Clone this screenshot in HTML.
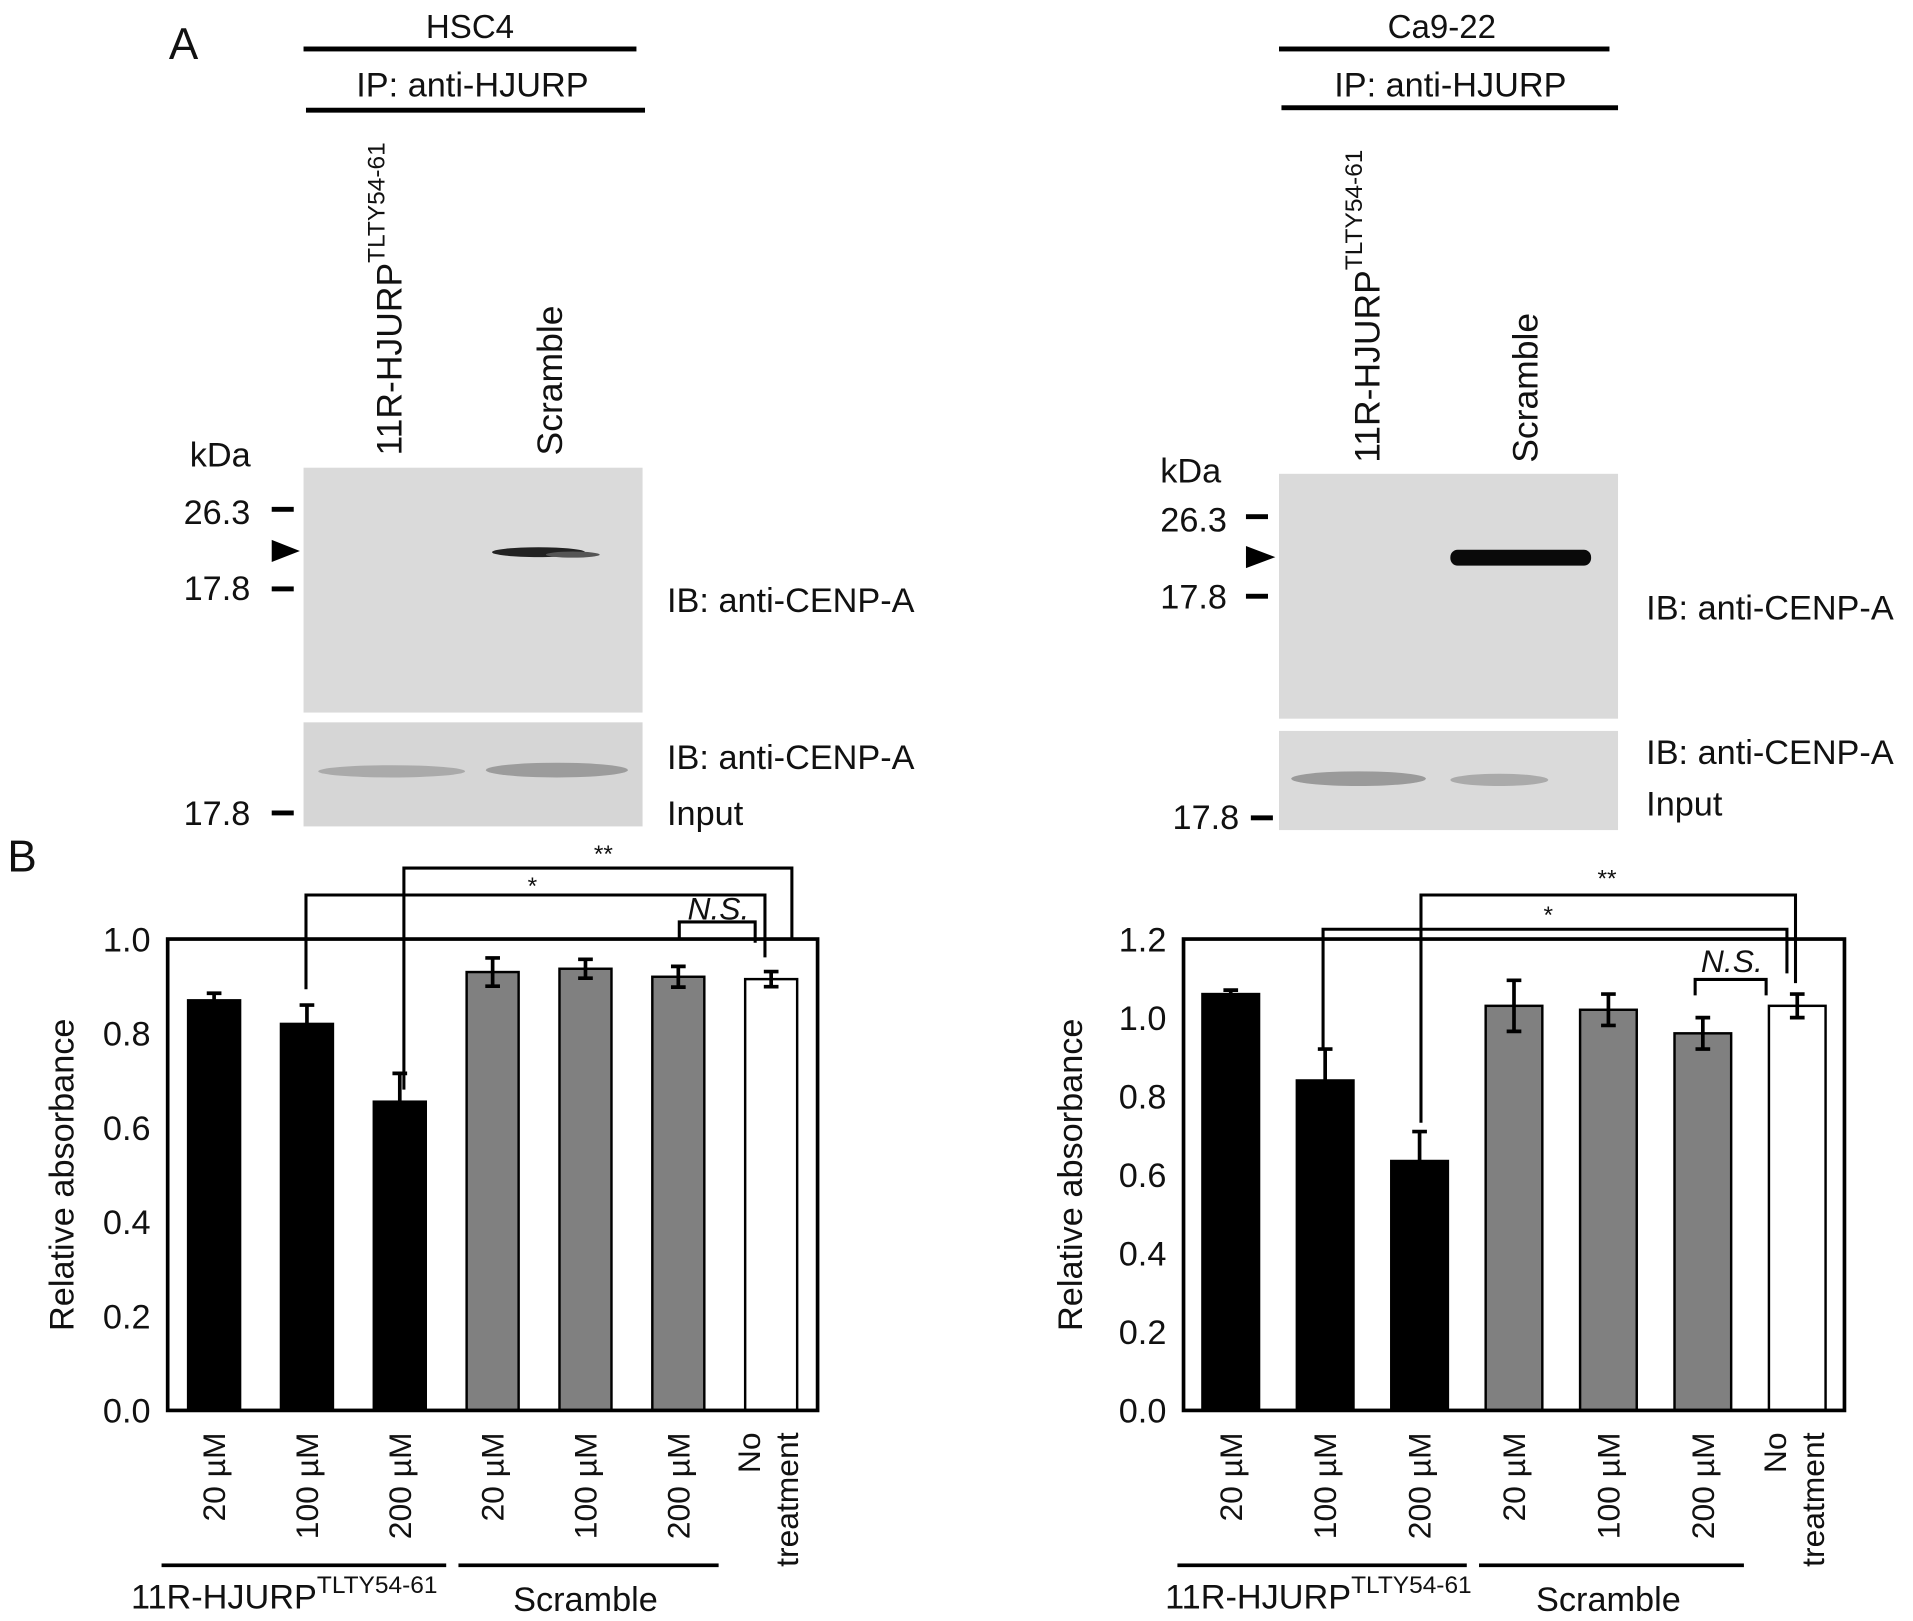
<!DOCTYPE html>
<html><head><meta charset="utf-8">
<style>
html,body{margin:0;padding:0;background:#fff;}
svg{display:block;}
text{font-family:"Liberation Sans",Arial,sans-serif;fill:#111;}
</style></head>
<body>
<svg id="fig" width="1913" height="1621" viewBox="0 0 1563 1324" preserveAspectRatio="none" xmlns="http://www.w3.org/2000/svg">
<g id="west" stroke="none">
  <text x="138" y="48" font-size="36">A</text>
  <text x="6" y="712" font-size="36">B</text>
  <text x="384" y="31" font-size="27" text-anchor="middle">HSC4</text>
  <rect x="248" y="38" width="272" height="4" fill="#000"/>
  <text x="386" y="79" font-size="28" text-anchor="middle">IP: anti-HJURP</text>
  <rect x="250" y="88" width="277" height="4" fill="#000"/>
  <text transform="translate(328,372) rotate(-90)" font-size="29">11R-HJURP<tspan font-size="20" dy="-14">TLTY54-61</tspan></text>
  <text transform="translate(459,372) rotate(-90)" font-size="29">Scramble</text>
  <text x="155" y="381" font-size="28">kDa</text>
  <rect x="248" y="382" width="277" height="200" fill="#dadada"/>
  <ellipse cx="440" cy="451" rx="38" ry="4" fill="#222"/>
  <ellipse cx="468" cy="453" rx="22" ry="2.5" fill="#555"/>
  <rect x="248" y="590" width="277" height="85" fill="#d6d6d6"/>
  <ellipse cx="320" cy="630" rx="60" ry="5" fill="#aaa"/>
  <ellipse cx="455" cy="629" rx="58" ry="6" fill="#9c9c9c"/>
  <text x="150" y="428" font-size="28">26.3</text><rect x="222" y="414" width="18" height="4" fill="#000"/>
  <polygon points="222,441 245,450 222,459" fill="#000"/>
  <text x="150" y="490" font-size="28">17.8</text><rect x="222" y="479" width="18" height="4" fill="#000"/>
  <text x="150" y="674" font-size="28">17.8</text><rect x="222" y="662" width="18" height="4" fill="#000"/>
  <text x="545" y="500" font-size="28">IB: anti-CENP-A</text>
  <text x="545" y="628" font-size="28">IB: anti-CENP-A</text>
  <text x="545" y="674" font-size="28">Input</text>
  <text x="1178" y="31" font-size="27" text-anchor="middle">Ca9-22</text>
  <rect x="1045" y="38" width="270" height="4" fill="#000"/>
  <text x="1185" y="79" font-size="28" text-anchor="middle">IP: anti-HJURP</text>
  <rect x="1047" y="86" width="275" height="4" fill="#000"/>
  <text transform="translate(1127,378) rotate(-90)" font-size="29">11R-HJURP<tspan font-size="20" dy="-14">TLTY54-61</tspan></text>
  <text transform="translate(1256,378) rotate(-90)" font-size="29">Scramble</text>
  <text x="948" y="394" font-size="28">kDa</text>
  <rect x="1045" y="387" width="277" height="200" fill="#dadada"/>
  <rect x="1185" y="449" width="115" height="13" rx="6" fill="#0a0a0a"/>
  <rect x="1045" y="597" width="277" height="81" fill="#dadada"/>
  <ellipse cx="1110" cy="636" rx="55" ry="6" fill="#9a9a9a"/>
  <ellipse cx="1225" cy="637" rx="40" ry="5" fill="#aaa"/>
  <text x="948" y="434" font-size="28">26.3</text><rect x="1018" y="420" width="18" height="4" fill="#000"/>
  <polygon points="1018,446 1042,455 1018,464" fill="#000"/>
  <text x="948" y="497" font-size="28">17.8</text><rect x="1018" y="485" width="18" height="4" fill="#000"/>
  <text x="958" y="677" font-size="28">17.8</text><rect x="1022" y="666" width="18" height="4" fill="#000"/>
  <text x="1345" y="506" font-size="28">IB: anti-CENP-A</text>
  <text x="1345" y="624" font-size="28">IB: anti-CENP-A</text>
  <text x="1345" y="666" font-size="28">Input</text>
</g>
<g id="charts"></g>
</svg>
<script>
// HSC4 chart data
const categories = ["20 µM","100 µM","200 µM","20 µM","100 µM","200 µM","No treatment"];
const hscValues = [0.87, 0.82, 0.655, 0.93, 0.937, 0.92, 0.915];
const hscErrors = [0.015, 0.04, 0.06, 0.03, 0.02, 0.022, 0.016];
const hscTicks = [0.0, 0.2, 0.4, 0.6, 0.8, 1.0];
// Ca9-22 chart data
const caValues = [1.06, 0.84, 0.635, 1.03, 1.02, 0.96, 1.03];
const caErrors = [0.01, 0.08, 0.075, 0.065, 0.04, 0.04, 0.03];
const caTicks = [0.0, 0.2, 0.4, 0.6, 0.8, 1.0, 1.2];
const fills = ["#000","#000","#000","#808080","#808080","#808080","#fff"];

const NS = "http://www.w3.org/2000/svg";
const root = document.getElementById('charts');
function mk(tag, attrs, parent, txt){
  const e = document.createElementNS(NS, tag);
  for (const k in attrs) e.setAttribute(k, attrs[k]);
  if (txt !== undefined) e.textContent = txt;
  parent.appendChild(e);
  return e;
}
function drawChart(cfg){
  const g = mk('g', {}, root);
  
  
  const ymax = cfg.ticks[cfg.ticks.length-1];
  const y = v => cfg.bottom - v / ymax * (cfg.bottom - cfg.top);
  const n = cfg.values.length;
  const step = (cfg.right - cfg.left) / n;
  const bw = step * cfg.bwFrac;
  const cx = i => cfg.left + step * (i + 0.5);
  cfg.ticks.forEach(t => {
    const tl = mk('text', {x: cfg.left - 14, y: y(t) + 10, 'font-size': 28, 'text-anchor': 'end'}, g, t.toFixed(1));
    
    
  });
  const yt = mk('text', {transform: `translate(${cfg.titleX},${(cfg.top+cfg.bottom)/2}) rotate(-90)`, 'font-size': 28, 'text-anchor': 'middle'}, g, 'Relative absorbance');
  
  
  cfg.values.forEach((v, i) => {
    const r = mk('rect', {x: cx(i) - bw/2, y: y(v), width: bw, height: cfg.bottom - y(v), fill: fills[i], stroke: '#000', 'stroke-width': 2}, g);
    
    
    const e = cfg.errors[i];
    const eb = mk('path', {d: `M${cx(i)},${y(v+e)}V${y(v-e)}M${cx(i)-6},${y(v+e)}h12M${cx(i)-6},${y(v-e)}h12`, stroke: '#000', 'stroke-width': 3, fill: 'none'}, g);
    
    
    const lines = categories[i] === 'No treatment' ? ['No','treatment'] : [categories[i]];
    lines.forEach((s, j) => {
      const off = lines.length === 2 ? (j === 0 ? -9 : 22) : 9;
      const tx = mk('text', {transform: `translate(${cx(i)+off},${cfg.bottom+18}) rotate(-90)`, 'font-size': 26, 'text-anchor': 'end'}, g, s);
      
      
    });
  });
  mk('rect', {x: cfg.left, y: cfg.top, width: cfg.right - cfg.left, height: cfg.bottom - cfg.top, fill: 'none', stroke: '#000', 'stroke-width': 3}, g);
  mk('rect', {x: cfg.left - 5, y: 1277, width: step*3 + 5, height: 3, fill: '#000'}, g);
  mk('rect', {x: cfg.left + step*3 + 10, y: 1277, width: step*3 - 15, height: 3, fill: '#000'}, g);
  const gl = mk('text', {x: cfg.groupX, y: 1314, 'font-size': 28}, g);
  
  
  gl.innerHTML = '11R-HJURP<tspan font-size="20" dy="-13">TLTY54-61</tspan>';
  const sl = mk('text', {x: cfg.left + step*4.5, y: 1316, 'font-size': 28, 'text-anchor': 'middle'}, g, 'Scramble');
  
  
  const br = (x1, y1, x2, y2, yl, label, italic, lx, ly, nm) => {
    const p = mk('path', {d: `M${x1},${y1}V${yl}H${x2}V${y2}`, stroke: '#000', 'stroke-width': 2.5, fill: 'none'}, g);
    
    
    const t = mk('text', {x: lx, y: ly, 'font-size': italic ? 26 : 20, 'text-anchor': 'middle', 'font-style': italic ? 'italic' : 'normal'}, g, label);
    
    
  };
  cfg.brackets(br, cx, y);
}
drawChart({name: 'hsc4-chart', values: hscValues, errors: hscErrors, ticks: hscTicks,
  left: 137, right: 668, top: 767, bottom: 1152, bwFrac: 0.56, titleX: 60, groupX: 107,
  brackets: (br, cx) => {
    br(330, 890, 647, 767, 709, '**', false, 493, 704, 'bracket-double-star');
    br(250, 808, 625, 782, 731, '*', false, 435, 730, 'bracket-star');
    br(555, 767, 617, 770, 753, 'N.S.', true, 587, 751, 'bracket-ns');
  }});
drawChart({name: 'ca922-chart', values: caValues, errors: caErrors, ticks: caTicks,
  left: 967, right: 1507, top: 767, bottom: 1152, bwFrac: 0.6, titleX: 884, groupX: 952,
  brackets: (br, cx) => {
    br(1161, 917, 1467, 803, 731, '**', false, 1313, 724, 'bracket-double-star');
    br(1081, 858, 1460, 795, 759, '*', false, 1265, 754, 'bracket-star');
    br(1385, 813, 1443, 813, 800, 'N.S.', true, 1415, 794, 'bracket-ns');
  }});
</script>
</body></html>
